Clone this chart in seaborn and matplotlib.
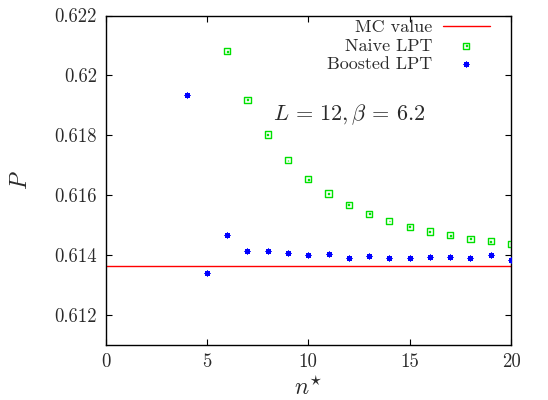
import numpy as np
import pandas as pd
import matplotlib
matplotlib.use("Agg")
import matplotlib.pyplot as plt
from matplotlib.path import Path
import seaborn as sns

# ---- data ----
naive_n = [6, 7, 8, 9, 10, 11, 12, 13, 14, 15, 16, 17, 18, 19, 20]
naive_p = [0.62081, 0.61919, 0.61803, 0.61717, 0.61654, 0.61606, 0.61568,
           0.61538, 0.61514, 0.61495, 0.61479, 0.61466, 0.61455, 0.61446, 0.61438]
boost_n = [4, 5, 6, 7, 8, 9, 10, 11, 12, 13, 14, 15, 16, 17, 18, 19, 20]
boost_p = [0.61936, 0.61341, 0.61468, 0.61413, 0.61415, 0.61407, 0.61400,
           0.61404, 0.61392, 0.61396, 0.61392, 0.61391, 0.61394, 0.61394,
           0.61389, 0.61400, 0.61385]
mc_value = 0.613635
xticks = [0, 5, 10, 15, 20]
yticks = [0.612, 0.614, 0.616, 0.618, 0.620, 0.622]
ytick_labels = ["0.612", "0.614", "0.616", "0.618", "0.62", "0.622"]
series_labels = ["MC value", "Naive LPT", "Boosted LPT"]
annotation = r"$L\,=\,12, \beta\,=\,6.2$"

sns.set_style("ticks")
plt.rcParams["font.family"] = ["cmr10", "DejaVu Serif"]
plt.rcParams["mathtext.fontset"] = "cm"
plt.rcParams["axes.formatter.use_mathtext"] = True

text_color = "#2a2a2a"

fig = plt.figure(figsize=(5.48, 4.0), dpi=100)
ax = fig.add_axes([105.5 / 548, 1 - 345 / 400, (511 - 105.5) / 548, (345 - 15.5) / 400])

# boxed-dot marker: outer square + tiny inner square
outer = [(-1, -1), (1, -1), (1, 1), (-1, 1), (-1, -1)]
inner = [(-0.15, -0.15), (0.15, -0.15), (0.15, 0.15), (-0.15, 0.15), (-0.15, -0.15)]
verts = outer + inner
codes = ([Path.MOVETO] + [Path.LINETO] * 3 + [Path.CLOSEPOLY]) * 2
box_dot = Path(verts, codes)

ax.axhline(mc_value, color="#ff0000", lw=1.0, label=series_labels[0], zorder=1)

df_n = pd.DataFrame({"n": naive_n, "P": naive_p})
df_b = pd.DataFrame({"n": boost_n, "P": boost_p})

sns.scatterplot(data=df_n, x="n", y="P", ax=ax, marker=box_dot, s=20,
                facecolor="none", edgecolor="#00e000", linewidth=1.0,
                label=series_labels[1], zorder=3)
sns.scatterplot(data=df_b, x="n", y="P", ax=ax, marker=(8, 2, 0), s=12,
                color="#0000ff", edgecolor="#0000ff", linewidth=0.9,
                label=series_labels[2], zorder=3)

ax.set_xlim(0, 20)
ax.set_ylim(0.611, 0.622)
ax.set_xticks(xticks)
ax.set_xticklabels([str(t) for t in xticks])
ax.set_yticks(yticks)
ax.set_yticklabels(ytick_labels)
ax.tick_params(direction="in", length=4, width=0.8, top=True, right=True,
               labelsize=13.5, colors="black", labelcolor=text_color, pad=6)
ax.minorticks_off()
for s in ax.spines.values():
    s.set_visible(True)
    s.set_linewidth(1.0)
    s.set_color("black")

ax.set_xlabel(r"$n^{\star}$", fontsize=17, color=text_color, labelpad=4)
ax.set_ylabel(r"$P$", fontsize=17, color=text_color, labelpad=16)

ax.text(0.60, 0.698, annotation, transform=ax.transAxes, ha="center", va="center",
        fontsize=16, color=text_color)

leg = ax.legend(loc="upper right", frameon=False, markerfirst=False, fontsize=13,
                handlelength=2.6, labelspacing=0.15, borderaxespad=0.1,
                handletextpad=0.6, bbox_to_anchor=(0.97, 1.015))
for t in leg.get_texts():
    t.set_color(text_color)

fig.savefig("out.png", dpi=100)
